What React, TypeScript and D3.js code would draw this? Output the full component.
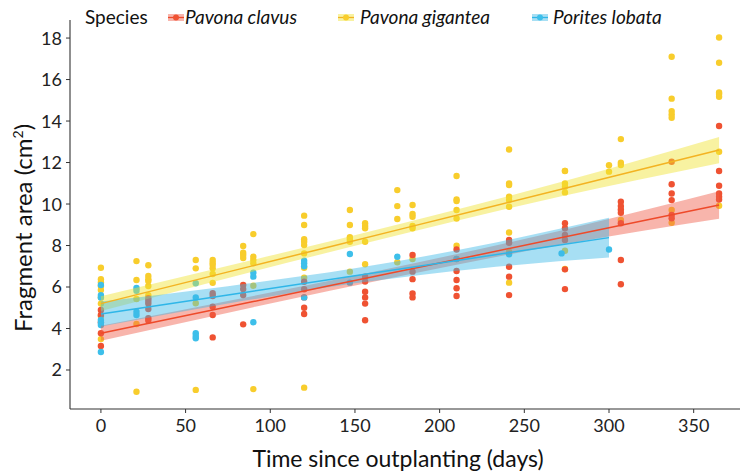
import React from "react";
import * as d3 from "d3";

// ---------- data ----------
const species = ["Pavona clavus", "Pavona gigantea", "Porites lobata"];
const xTicks = [0, 50, 100, 150, 200, 250, 300, 350];
const yTicks = [2, 4, 6, 8, 10, 12, 14, 16, 18];

// observations grouped by sampling day: [day, areas]
const clavusObs: [number, number[]][] = [
  [0, [4.89, 4.65, 4.3, 3.77, 3.16]],
  [28, [5.46, 5.34, 5.21, 4.94, 4.5, 4.38]],
  [66, [5.7, 5.57, 5.05, 4.65, 3.57]],
  [84, [6.1, 5.9, 5.61, 4.2]],
  [120, [6.25, 5.89, 5.5, 5.0, 4.7]],
  [156, [6.5, 6.26, 5.77, 5.5, 5.2, 4.4]],
  [184, [7.54, 6.74, 6.38, 5.69, 5.5]],
  [210, [7.81, 6.77, 6.34, 5.94, 5.57]],
  [241, [8.27, 8.13, 6.98, 6.5, 5.61]],
  [274, [9.07, 8.83, 8.51, 8.27, 6.85, 5.9]],
  [307, [10.11, 9.9, 9.74, 9.58, 9.07, 7.3, 6.13]],
  [337, [12.04, 10.95, 10.51, 10.19, 9.47, 9.31]],
  [365, [13.76, 11.59, 10.88, 10.51, 10.35, 10.22]],
];
const giganteaObs: [number, number[]][] = [
  [0, [6.93, 6.38, 6.23, 6.05, 5.86, 5.5, 5.2, 4.6, 3.49]],
  [21, [7.25, 6.34, 5.42, 4.22, 0.95]],
  [28, [7.05, 6.53, 6.38, 6.29, 6.05, 5.6]],
  [56, [7.3, 6.9, 5.22, 1.04]],
  [66, [7.3, 7.17, 7.06, 6.9, 6.63, 6.2]],
  [84, [7.98, 7.65, 7.54, 7.4]],
  [90, [8.55, 7.46, 7.3, 7.14, 6.06, 1.08]],
  [120, [9.44, 8.99, 8.3, 8.18, 8.02, 7.62, 6.93, 6.45, 1.15]],
  [147, [9.71, 8.99, 8.4, 8.3, 8.18, 6.74]],
  [156, [9.07, 8.94, 8.83, 8.18, 7.1]],
  [175, [10.67, 9.9, 9.28, 7.19]],
  [184, [9.95, 9.52, 9.39, 8.94, 8.83, 7.35]],
  [210, [11.35, 10.22, 10.14, 9.71, 9.3, 7.99, 7.35]],
  [241, [12.63, 10.99, 10.92, 10.35, 10.19, 9.87, 8.63, 7.7, 6.21]],
  [274, [11.6, 11.59, 10.99, 10.83, 10.56, 7.75, 6.87]],
  [300, [11.87, 11.56]],
  [307, [13.13, 11.99, 11.88, 9.23]],
  [337, [17.1, 15.08, 14.48, 14.32, 14.16, 9.71, 9.1]],
  [365, [18.03, 16.81, 15.38, 15.3, 15.17, 12.52, 9.92]],
];
const lobataObs: [number, number[]][] = [
  [0, [6.1, 5.61, 5.5, 4.41, 4.28, 4.17, 2.87]],
  [21, [5.95, 5.82, 4.81, 4.65]],
  [56, [6.18, 5.5, 3.77, 3.64, 3.53]],
  [90, [6.69, 6.5, 4.3]],
  [120, [7.27, 7.14, 7.0, 5.5]],
  [147, [7.59, 6.21]],
  [175, [7.46]],
  [210, [7.35]],
  [241, [7.58]],
  [272, [7.62]],
  [300, [7.81]],
];

// fitted trend and confidence half-width at a few days
const clavusFitDays = [0, 90, 180, 270, 365];
const clavusFit = [3.77, 5.3, 6.82, 8.35, 9.95];
const clavusHalf = [0.36, 0.27, 0.24, 0.34, 0.66];
const giganteaFitDays = [0, 90, 180, 270, 365];
const giganteaFit = [5.2, 7.03, 8.85, 10.68, 12.6];
const giganteaHalf = [0.36, 0.28, 0.26, 0.34, 0.63];
const lobataFitDays = [0, 75, 150, 225, 300];
const lobataFit = [4.7, 5.62, 6.54, 7.46, 8.38];
const lobataHalf = [0.6, 0.42, 0.36, 0.55, 0.96];

const pointColors = ["#EF5232", "#F8CD2C", "#3DBFEA"];
const bandColors = ["#EF5A46", "#F0E22E", "#3BB9E6"];
const lineColors = ["#EE4A2A", "#F3B322", "#2FB6E8"];

const W = 740;
const H = 473;
const FONT = "Lato, 'Open Sans', sans-serif";

export default function App() {
  const x = d3.scaleLinear().domain([-18.25, 383.25]).range([70, 750]);
  const y = d3.scaleLinear().domain([0.12, 18.87]).range([409, 20]);

  const obs = [clavusObs, giganteaObs, lobataObs];
  const fits = [
    { days: clavusFitDays, fit: clavusFit, half: clavusHalf },
    { days: giganteaFitDays, fit: giganteaFit, half: giganteaHalf },
    { days: lobataFitDays, fit: lobataFit, half: lobataHalf },
  ];

  const area = d3
    .area<[number, number, number]>()
    .x((d) => x(d[0]))
    .y0((d) => y(d[1] - d[2]))
    .y1((d) => y(d[1] + d[2]))
    .curve(d3.curveMonotoneX);
  const line = d3
    .line<[number, number, number]>()
    .x((d) => x(d[0]))
    .y((d) => y(d[1]))
    .curve(d3.curveMonotoneX);

  // draw order of points: yellow, red, blue
  const pointOrder = [1, 0, 2];

  const legendItems = [
    { key: 176, label: 185 },
    { key: 346, label: 360 },
    { key: 540, label: 553 },
  ];

  return (
    <svg
      width={W}
      height={H}
      style={{ position: "absolute", left: 0, top: 0, background: "#fff" }}
      fontFamily={FONT}
    >
      <rect width={W} height={H} fill="#fff" />
      {/* points */}
      {pointOrder.map((si) =>
        obs[si].flatMap(([day, vals], gi) =>
          vals.map((v, vi) => (
            <circle
              key={`p${si}-${gi}-${vi}`}
              cx={x(day)}
              cy={y(v)}
              r={3.2}
              fill={pointColors[si]}
            />
          ))
        )
      )}
      {/* ribbons */}
      {fits.map((f, si) => {
        const rows = f.days.map(
          (d, i) => [d, f.fit[i], f.half[i]] as [number, number, number]
        );
        return (
          <path
            key={`b${si}`}
            d={area(rows) || ""}
            fill={bandColors[si]}
            fillOpacity={0.45}
          />
        );
      })}
      {/* lines */}
      {fits.map((f, si) => {
        const rows = f.days.map(
          (d, i) => [d, f.fit[i], f.half[i]] as [number, number, number]
        );
        return (
          <path
            key={`l${si}`}
            d={line(rows) || ""}
            fill="none"
            stroke={lineColors[si]}
            strokeWidth={1.5}
          />
        );
      })}

      {/* axes */}
      <line x1={70} x2={70} y1={20} y2={409} stroke="#333" strokeWidth={1.1} />
      <line x1={70} x2={W} y1={409} y2={409} stroke="#333" strokeWidth={1.1} />
      {yTicks.map((t) => (
        <g key={`yt${t}`}>
          <line x1={66} x2={70} y1={y(t)} y2={y(t)} stroke="#333" />
          <text
            x={62}
            y={y(t)}
            dy="0.36em"
            textAnchor="end"
            fontSize={18}
            fill="#222"
          >
            {t}
          </text>
        </g>
      ))}
      {xTicks.map((t) => (
        <g key={`xt${t}`}>
          <line x1={x(t)} x2={x(t)} y1={409} y2={413} stroke="#333" />
          <text
            x={x(t)}
            y={432}
            textAnchor="middle"
            fontSize={18}
            fill="#222"
          >
            {t}
          </text>
        </g>
      ))}
      <text
        x={398}
        y={467}
        textAnchor="middle"
        fontSize={23}
        fill="#111"
      >
        Time since outplanting (days)
      </text>
      <text
        transform="translate(32,228) rotate(-90)"
        textAnchor="middle"
        fontSize={24}
        fill="#111"
      >
        Fragment area (cm
        <tspan fontSize={14} dy={-9}>
          2
        </tspan>
        <tspan dy={9}>)</tspan>
      </text>

      {/* legend */}
      <text x={85} y={24} fontSize={19} fill="#111">
        Species
      </text>
      {legendItems.map((it, si) => (
        <g key={`lg${si}`}>
          <rect
            x={it.key - 8}
            y={14}
            width={16}
            height={7}
            fill={bandColors[si]}
            fillOpacity={0.45}
          />
          <line
            x1={it.key - 8}
            x2={it.key + 8}
            y1={17.5}
            y2={17.5}
            stroke={lineColors[si]}
            strokeWidth={1.3}
          />
          <circle cx={it.key} cy={17.5} r={3} fill={pointColors[si]} />
          <text
            x={it.label}
            y={24}
            fontSize={19}
            fontStyle="italic"
            fill="#111"
          >
            {species[si]}
          </text>
        </g>
      ))}
    </svg>
  );
}
